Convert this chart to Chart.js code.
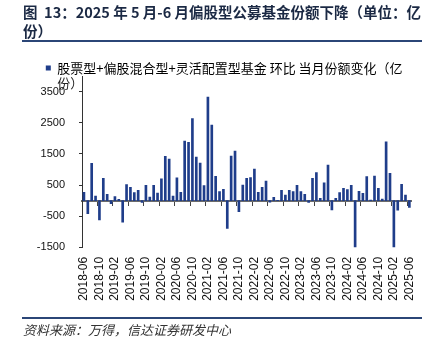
<!DOCTYPE html>
<html>
<head>
<meta charset="utf-8">
<script src="https://cdn.jsdelivr.net/npm/chart.js@4"></script>
<style>
  html, body { margin: 0; padding: 0; background: #fff; }
  body { width: 437px; height: 343px; position: relative; overflow: hidden; }
  #wrap { position: absolute; left: 0; top: 0; width: 437px; height: 343px; }
  .title {
    position: absolute; left: 23px; top: 2px; z-index: 2;
    font: bold 14.5px "Noto Sans CJK SC", sans-serif; line-height: 19px;
    color: #1b2944; white-space: nowrap;
  }
  .rule { position: absolute; left: 22px; width: 400px; height: 2px; background: #2b4677; z-index: 2; }
  .source {
    position: absolute; left: 23px; top: 321px; z-index: 2;
    font: italic 13px "Noto Sans CJK SC", sans-serif; line-height: 18px; color: #333;
  }
</style>
</head>
<body>
<div class="title">图&nbsp;&nbsp;13：2025 年 5 月-6 月偏股型公募基金份额下降（单位：亿<br>份）</div>
<div class="rule" style="top:40px"></div>
<div id="wrap"><canvas id="chart"></canvas></div>
<div class="rule" style="top:317px"></div>
<div class="source">资料来源：万得，信达证券研发中心</div>
<script>
// ==================== DATOS ====================
// Meses 2018-06 … 2025-06
const months = [
    '2018-06', '2018-07', '2018-08', '2018-09', '2018-10', '2018-11', '2018-12',
    '2019-01', '2019-02', '2019-03', '2019-04', '2019-05', '2019-06', '2019-07', '2019-08', '2019-09', '2019-10', '2019-11', '2019-12',
    '2020-01', '2020-02', '2020-03', '2020-04', '2020-05', '2020-06', '2020-07', '2020-08', '2020-09', '2020-10', '2020-11', '2020-12',
    '2021-01', '2021-02', '2021-03', '2021-04', '2021-05', '2021-06', '2021-07', '2021-08', '2021-09', '2021-10', '2021-11', '2021-12',
    '2022-01', '2022-02', '2022-03', '2022-04', '2022-05', '2022-06', '2022-07', '2022-08', '2022-09', '2022-10', '2022-11', '2022-12',
    '2023-01', '2023-02', '2023-03', '2023-04', '2023-05', '2023-06', '2023-07', '2023-08', '2023-09', '2023-10', '2023-11', '2023-12',
    '2024-01', '2024-02', '2024-03', '2024-04', '2024-05', '2024-06', '2024-07', '2024-08', '2024-09', '2024-10', '2024-11', '2024-12',
    '2025-01', '2025-02', '2025-03', '2025-04', '2025-05', '2025-06'
];

// 当月份额变化（亿份）
const shareChange = [
    270, -415, 1200, 150, -620, 720, 200,
    -100, 130, 40, -690, 520, 430, 255, 335, -60, 495, 115, 495,
    240, 700, 1425, 1335, 150, 730, 270, 1915, 1875, 2635, 1400, 1210,
    480, 3330, 2430, 780, 290, 360, -890, 1430, 1595, -355, 500, 715,
    745, 1015, 265, 425, 625, -50, 105, 10, 335, 180, 330, 288,
    490, 295, 205, -55, 718, 905, 73, 572, 1146, -300, 73, 260,
    394, 355, 495, -1560, 303, 234, 775, 15, 790, 394, 51, 1890,
    878, -1560, -305, 523, 180, -217
];

// Etiquetas visibles del eje X (cada 4 meses)
const xTickLabels = [
    '2018-06', '2018-10', '2019-02', '2019-06', '2019-10', '2020-02', '2020-06', '2020-10',
    '2021-02', '2021-06', '2021-10', '2022-02', '2022-06', '2022-10', '2023-02', '2023-06',
    '2023-10', '2024-02', '2024-06', '2024-10', '2025-02', '2025-06'
];

const yTicks = [-1500, -500, 500, 1500, 2500, 3500];

// Leyenda (en dos líneas, como el original)
const legendLines = ['股票型+偏股混合型+灵活配置型基金 环比 当月份额变化（亿', '份）'];

const barColor = '#1f3d8a';
const legendFont = { family: '"Noto Sans CJK SC", sans-serif', size: 13, lineHeight: 1.15 };

// Segunda línea de la leyenda (el texto original se parte en dos)
const legendWrap = {
    id: 'legendWrap',
    afterDraw(chart) {
        const lg = chart.legend;
        if (!lg || !lg.legendHitBoxes || !lg.legendHitBoxes.length) return;
        const hb = lg.legendHitBoxes[0];
        const c = chart.ctx;
        c.save();
        c.font = `${legendFont.size}px ${legendFont.family}`;
        c.fillStyle = '#222';
        c.textAlign = 'left';
        c.textBaseline = 'middle';
        const x = hb.left + 5 + legendFont.size / 2;
        const y = hb.top + hb.height / 2 + legendFont.size * legendFont.lineHeight;
        c.fillText(legendLines[1], x, y);
        c.restore();
    }
};

// ==================== GRÁFICO ====================
const ctx = document.getElementById('chart').getContext('2d');
Chart.defaults.font.family = '"Liberation Sans", Arial, sans-serif';
Chart.defaults.color = '#111';

new Chart(ctx, {
    type: 'bar',
    data: {
        labels: months,
        datasets: [{
            label: legendLines.join(''),
            data: shareChange,
            backgroundColor: barColor,
            borderWidth: 0,
            barThickness: 2
        }]
    },
    options: {
        responsive: true,
        maintainAspectRatio: false,
        animation: false,
        layout: {
            padding: { top: 15.7, left: 0, right: 25.7, bottom: 0 }
        },
        plugins: {
            tooltip: { enabled: false },
            legend: {
                position: 'top',
                align: 'start',
                maxHeight: 60.5,
                labels: {
                    boxWidth: 5,
                    boxHeight: 5,
                    padding: 45.8,
                    color: '#222',
                    font: legendFont,
                    generateLabels: () => [{
                        text: legendLines[0],
                        fillStyle: barColor,
                        strokeStyle: barColor,
                        lineWidth: 0,
                        datasetIndex: 0
                    }]
                }
            }
        },
        scales: {
            x: {
                offset: true,
                grid: { display: false, drawTicks: false, offset: true },
                border: { display: false },
                ticks: {
                    autoSkip: false,
                    maxRotation: 90,
                    minRotation: 90,
                    padding: 9.5,
                    color: '#111',
                    font: { size: 12 },
                    callback: function(value, index) {
                        const lab = months[index];
                        return xTickLabels.includes(lab) ? lab : '';
                    }
                },
                afterFit: scale => { scale.height = 95.7; }
            },
            // Eje en el cero: línea base y marcas cada 4 meses
            x2: {
                type: 'category',
                axis: 'x',
                position: { y: 0 },
                offset: true,
                ticks: { display: false },
                grid: {
                    offset: true,
                    drawOnChartArea: false,
                    drawTicks: true,
                    tickLength: 4,
                    tickWidth: 1,
                    tickColor: c => (c.index % 4 === 0 ? '#444' : 'rgba(0,0,0,0)')
                },
                border: { display: true, color: '#6b6b6b', width: 2 }
            },
            y: {
                min: -1500,
                max: 4000,
                afterBuildTicks: scale => {
                    scale.ticks = yTicks.map(v => ({ value: v }));
                },
                ticks: {
                    padding: 14,
                    color: '#111',
                    font: { size: 11 },
                    callback: value => String(value)
                },
                grid: {
                    drawOnChartArea: false,
                    tickLength: 3,
                    color: '#333'
                },
                border: { color: '#333', width: 1 },
                afterFit: scale => { scale.width = 82; }
            }
        }
    },
    plugins: [legendWrap]
});
</script>
</body>
</html>
